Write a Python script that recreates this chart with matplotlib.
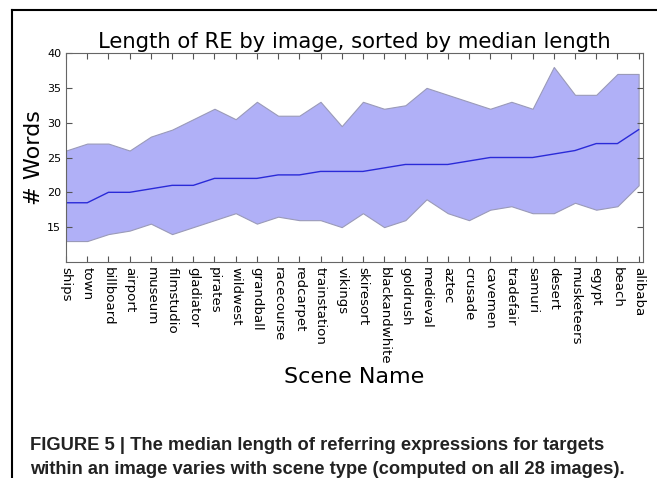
import numpy as np
import matplotlib
matplotlib.use('Agg')
import matplotlib.pyplot as plt
from matplotlib.lines import Line2D

# scenes sorted by median RE length
scenes = ['ships', 'town', 'billboard', 'airport', 'museum', 'filmstudio', 'gladiator',
          'pirates', 'wildwest', 'grandball', 'racecourse', 'redcarpet', 'trainstation',
          'vikings', 'skiresort', 'blackandwhite', 'goldrush', 'medieval', 'aztec',
          'crusade', 'cavemen', 'tradefair', 'samuri', 'desert', 'musketeers', 'egypt',
          'beach', 'alibaba']
median_len = [18.5, 18.5, 20, 20, 20.5, 21, 21, 22, 22, 22, 22.5, 22.5, 23, 23,
              23, 23.5, 24, 24, 24, 24.5, 25, 25, 25, 25.5, 26, 27, 27, 29]
upper_len = [26, 27, 27, 26, 28, 29, 30.5, 32, 30.5, 33, 31, 31, 33, 29.5,
             33, 32, 32.5, 35, 34, 33, 32, 33, 32, 38, 34, 34, 37, 37]
lower_len = [13, 13, 14, 14.5, 15.5, 14, 15, 16, 17, 15.5, 16.5, 16, 16, 15,
             17, 15, 16, 19, 17, 16, 17.5, 18, 17, 17, 18.5, 17.5, 18, 21]

caption_1 = 'FIGURE 5 | The median length of referring expressions for targets'
caption_2 = 'within an image varies with scene type (computed on all 28 images).'

fig = plt.figure(figsize=(6.57, 4.78), dpi=100)
fig.patch.set_facecolor('white')
ax = fig.add_axes([0.1005, 0.452, 0.878, 0.437])

x = np.arange(len(scenes))
ax.fill_between(x, lower_len, upper_len, facecolor='#b0b0f7', edgecolor='#9a9ab8', lw=0.8)
ax.plot(x, median_len, color='#2a2ad8', lw=1.0)

ax.set_xlim(0, 27.2)
ax.set_ylim(10, 40)
ax.set_yticks([15, 20, 25, 30, 35, 40])
ax.set_xticks(x)
ax.set_xticklabels(scenes, rotation=-90, fontsize=9.6, va='top', ha='center')
ax.tick_params(axis='y', labelsize=8)
ax.tick_params(direction='in', top=True, right=True, length=4, color='#555555')
for s in ax.spines.values():
    s.set_color('#666666')

ax.set_title('Length of RE by image, sorted by median length', fontsize=15.2, pad=4)
ax.set_ylabel('# Words', fontsize=16, labelpad=2)
ax.set_xlabel('Scene Name', fontsize=16, labelpad=2)

# page frame lines
fig.add_artist(Line2D([12/657, 1.0], [1 - 10/478, 1 - 10/478], color='black', lw=1.5,
                      transform=fig.transFigure))
fig.add_artist(Line2D([12/657, 12/657], [0.0, 1 - 10/478], color='black', lw=1.5,
                      transform=fig.transFigure))

cap_font = ['Liberation Sans', 'DejaVu Sans']
fig.text(30/657, 1 - 445/478, caption_1, fontsize=13.2, fontweight='bold',
         family=cap_font, color='#222222', va='center')
fig.text(30/657, 1 - 469/478, caption_2, fontsize=13.2, fontweight='bold',
         family=cap_font, color='#222222', va='center')

fig.savefig('out.png', dpi=100)
